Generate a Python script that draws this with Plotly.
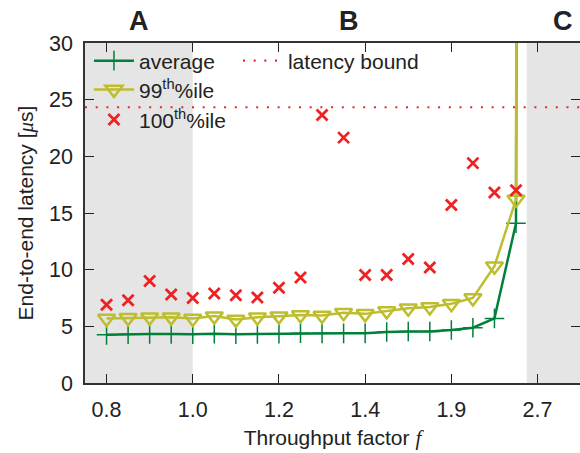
import plotly.graph_objects as go

# ---- data ----
tick_labels = ["0.8", "1.0", "1.2", "1.4", "1.9", "2.7"]
tick_index = [0, 4, 8, 12, 16, 20]
point_index = list(range(21))

avg = [4.25, 4.3, 4.32, 4.32, 4.3, 4.35, 4.3, 4.33, 4.35, 4.4,
       4.38, 4.38, 4.38, 4.5, 4.55, 4.55, 4.68, 4.88, 5.7, 14.1, 1000]
p99 = [5.7, 5.75, 5.8, 5.8, 5.7, 5.9, 5.6, 5.8, 5.9, 6.0,
       5.95, 6.2, 6.1, 6.35, 6.6, 6.7, 7.0, 7.5, 10.3, 16.2, 1000]
p100 = [6.9, 7.3, 9.0, 7.8, 7.5, 7.9, 7.75, 7.55, 8.4, 9.3,
        23.65, 21.65, 9.53, 9.53, 10.94, 10.2, 15.7, 19.4, 16.8, 17.0, None]
latency_bound = 24.33

regions = ["A", "B", "C"]
region_edges = [-1.0, 4.0, 19.5, 21.97]   # x-range start, A|B, B|C, x-range end

GREEN = "#00803a"
OLIVE = "#bdbd2e"
RED = "#ee2222"
FONT = "Liberation Sans"
TXT = "#222"

fig = go.Figure()

fig.add_trace(go.Scatter(
    x=point_index, y=avg, name="average", mode="lines+markers",
    line=dict(color=GREEN, width=2.5),
    marker=dict(symbol="cross-thin", size=14, line=dict(color=GREEN, width=1.5)),
    legend="legend"))
fig.add_trace(go.Scatter(
    x=point_index, y=p99, name="99<sup>th</sup>%ile", mode="lines+markers",
    line=dict(color=OLIVE, width=2.5),
    marker=dict(symbol="triangle-down-open", size=15, color=OLIVE,
                line=dict(color=OLIVE, width=2.5)),
    legend="legend2"))
fig.add_trace(go.Scatter(
    x=point_index, y=p100, name="100<sup>th</sup>%ile", mode="markers",
    marker=dict(symbol="x-thin", size=11, line=dict(color=RED, width=2.8)),
    legend="legend3"))
fig.add_trace(go.Scatter(
    x=[region_edges[0], region_edges[-1]], y=[latency_bound, latency_bound],
    name="latency bound", mode="lines",
    line=dict(color=RED, width=2.2, dash="2px,8.7px"),
    legend="legend4"))

# shaded regions A and C
for x0, x1 in [(region_edges[0], region_edges[1]), (region_edges[2], region_edges[3])]:
    fig.add_shape(type="rect", xref="x", yref="paper", x0=x0, x1=x1, y0=0, y1=1,
                  fillcolor="#e5e5e5", line_width=0, layer="below")

# region letters
centers = [(region_edges[0] + region_edges[1]) / 2 + 0.0,
           (region_edges[1] + region_edges[2]) / 2 - 0.5,
           (region_edges[2] + region_edges[3]) / 2 + 0.45]
for lab, cx in zip(regions, centers):
    fig.add_annotation(x=cx, y=1.0, xref="x", yref="paper", yshift=22,
                       xanchor="center", yanchor="middle",
                       text=f"<b>{lab}</b>", showarrow=False,
                       font=dict(family=FONT, size=27, color=TXT))

axis_common = dict(showline=True, linecolor="#333", linewidth=1.5, mirror="ticks",
                   ticks="inside", ticklen=9, tickwidth=1.3, tickcolor=TXT,
                   showgrid=False, zeroline=False, automargin=False,
                   tickfont=dict(family=FONT, size=21.5, color=TXT))

fig.update_layout(
    width=580, height=453,
    margin=dict(l=85, r=0, t=43, b=70),
    plot_bgcolor="white", paper_bgcolor="white",
    showlegend=True,
    font=dict(family=FONT, size=21, color=TXT),
    xaxis=dict(range=[region_edges[0], region_edges[-1]], tickvals=tick_index,
               ticktext=tick_labels, ticklabelstandoff=6,
               title=dict(text="Throughput factor <span style='font-family:Liberation Serif'><i>f</i></span>",
                          font=dict(family=FONT, size=21, color=TXT), standoff=10),
               **axis_common),
    yaxis=dict(range=[0, 30], tickvals=[0, 5, 10, 15, 20, 25, 30], ticklabelstandoff=6,
               title=dict(text="End-to-end latency [<span style='font-family:Liberation Serif'><i>μ</i></span>s]",
                          font=dict(family=FONT, size=21, color=TXT), standoff=10),
               **axis_common),
)

leg_common = dict(bgcolor="rgba(0,0,0,0)", borderwidth=0, xanchor="left", yanchor="middle",
                  font=dict(family=FONT, size=21, color=TXT), itemwidth=40)
fig.update_layout(
    legend=dict(x=0.008, y=0.947, **leg_common),
    legend2=dict(x=0.008, y=0.862, **leg_common),
    legend3=dict(x=0.008, y=0.774, **leg_common),
    legend4=dict(x=0.309, y=0.947, **leg_common),
)

fig.write_html("out.html", config={"displayModeBar": False},
               post_script="document.body.style.margin='0';document.body.style.overflow='hidden';")
